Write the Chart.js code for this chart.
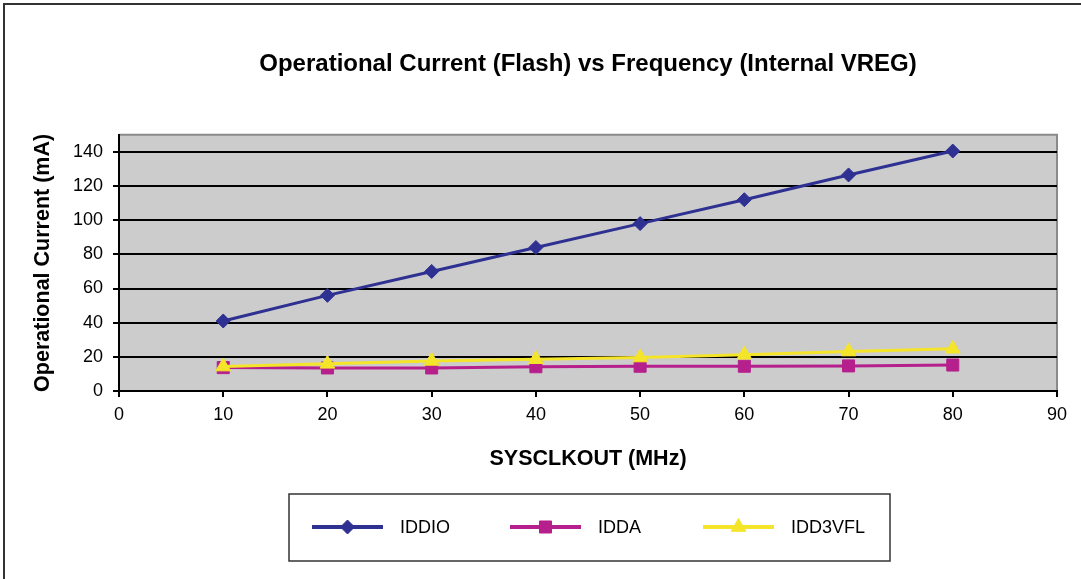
<!DOCTYPE html>
<html>
<head>
<meta charset="utf-8">
<script src="https://cdn.jsdelivr.net/npm/chart.js@4"></script>
<style>
  html, body { margin: 0; padding: 0; background: #fff; }
  canvas { display: block; }
</style>
</head>
<body>
<canvas id="chart" width="1081" height="579"></canvas>
<script>
// SYSCLKOUT frequency (MHz)
const freqs = [10, 20, 30, 40, 50, 60, 70, 80];

// currents in mA
const iddio = [41, 56, 70, 84, 98, 112, 126.5, 140.5];
const idda = [13.7, 13.5, 13.5, 14.2, 14.5, 14.5, 14.7, 15.2];
const idd3vfl = [14.3, 15.9, 17.6, 18.6, 19.6, 21.2, 23.1, 24.7];

// labelled ticks on the value axis (the axis itself runs up to 150)
const yTicks = [0, 20, 40, 60, 80, 100, 120, 140];

const seriesNames = ["IDDIO", "IDDA", "IDD3VFL"];
const seriesColors = ["#2E3192", "#B5208C", "#F5E52A"];

const FONT = "'Liberation Sans', Arial, sans-serif";

const toPoints = (values) => freqs.map((f, i) => ({ x: f, y: values[i] }));

// grey plot area + frame of the whole chart
const plotBackground = {
  id: "plotBackground",
  beforeDraw(chart) {
    const { ctx, chartArea: a } = chart;
    ctx.save();
    ctx.fillStyle = "#cccccc";
    ctx.fillRect(a.left, a.top, a.right - a.left, a.bottom - a.top);
    ctx.strokeStyle = "#8a8a8a";
    ctx.lineWidth = 2;
    ctx.beginPath();
    ctx.moveTo(a.left, a.top);
    ctx.lineTo(a.right, a.top);
    ctx.lineTo(a.right, a.bottom);
    ctx.stroke();
    // outer frame (only top and left edges are inside the picture)
    ctx.strokeStyle = "#333";
    ctx.lineWidth = 2;
    ctx.beginPath();
    ctx.moveTo(4, 600);
    ctx.lineTo(4, 4);
    ctx.lineTo(1100, 4);
    ctx.stroke();
    ctx.restore();
  },
};

// Excel style legend: line with marker through it, in a framed box
const boxLegend = {
  id: "boxLegend",
  afterDraw(chart) {
    const { ctx } = chart;
    const box = { left: 289, top: 494, right: 890, bottom: 561 };
    const startX = [312, 510, 703];
    const midY = 527;
    ctx.save();
    ctx.strokeStyle = "#333";
    ctx.lineWidth = 1.5;
    ctx.strokeRect(box.left, box.top, box.right - box.left, box.bottom - box.top);
    chart.data.datasets.forEach((ds, i) => {
      const x0 = startX[i];
      ctx.strokeStyle = ds.borderColor;
      ctx.lineWidth = 4;
      ctx.beginPath();
      ctx.moveTo(x0, midY);
      ctx.lineTo(x0 + 71, midY);
      ctx.stroke();
      ctx.fillStyle = ds.pointBackgroundColor;
      ctx.strokeStyle = ds.pointBorderColor;
      ctx.lineWidth = 1;
      Chart.helpers.drawPoint(ctx, {
        pointStyle: ds.pointStyle,
        radius: ds.pointRadius,
        borderWidth: 1,
        rotation: 0,
      }, x0 + 35.5, midY);
      ctx.fillStyle = "#000";
      ctx.font = "18px " + FONT;
      ctx.textBaseline = "middle";
      ctx.fillText(ds.label, x0 + 88, midY + 1);
    });
    ctx.restore();
  },
};

const makeDataset = (i, values, style, radius, order) => ({
  label: seriesNames[i],
  data: toPoints(values),
  borderColor: seriesColors[i],
  backgroundColor: seriesColors[i],
  pointBackgroundColor: seriesColors[i],
  pointBorderColor: seriesColors[i],
  borderWidth: 3,
  pointStyle: style,
  pointRadius: radius,
  pointHoverRadius: radius,
  pointBorderWidth: 1,
  tension: 0,
  order: order,
});

new Chart(document.getElementById("chart"), {
  type: "line",
  data: {
    datasets: [
      makeDataset(0, iddio, "rectRot", 7, 0),
      makeDataset(1, idda, "rect", 8.5, 2),
      makeDataset(2, idd3vfl, "triangle", 8.5, 1),
    ],
  },
  options: {
    responsive: false,
    animation: false,
    layout: { padding: { top: 0, left: 0, right: 24, bottom: 103 } },
    plugins: {
      legend: { display: false },
      tooltip: { enabled: false },
      title: {
        display: true,
        fullSize: false,
        text: "Operational Current (Flash) vs Frequency (Internal VREG)",
        color: "#000",
        font: { family: FONT, size: 24, weight: "bold" },
        padding: { top: 50, bottom: 56 },
      },
    },
    scales: {
      x: {
        type: "linear",
        min: 0,
        max: 90,
        afterFit(scale) { scale.height = 85; },
        ticks: { stepSize: 10, color: "#000", font: { family: FONT, size: 18 }, padding: 7 },
        grid: { drawOnChartArea: false, drawTicks: true, tickLength: 6, color: "#000", lineWidth: 2 },
        border: { display: true, color: "#000", width: 2 },
        title: {
          display: true,
          text: "SYSCLKOUT (MHz)",
          color: "#000",
          font: { family: FONT, size: 21.5, weight: "bold" },
          padding: { top: 0, bottom: 4 },
        },
      },
      y: {
        min: 0,
        max: 150,
        afterFit(scale) { scale.width = 119; },
        afterBuildTicks(scale) { scale.ticks = yTicks.map((v) => ({ value: v })); },
        ticks: { color: "#000", font: { family: FONT, size: 18 }, padding: 10 },
        grid: { color: "#000", lineWidth: 2, tickLength: 6 },
        border: { display: true, color: "#000", width: 2 },
        title: {
          display: true,
          text: "Operational Current (mA)",
          color: "#000",
          font: { family: FONT, size: 21.5, weight: "bold" },
          padding: { top: 30, bottom: 0 },
        },
      },
    },
  },
  plugins: [plotBackground, boxLegend],
});
</script>
</body>
</html>
